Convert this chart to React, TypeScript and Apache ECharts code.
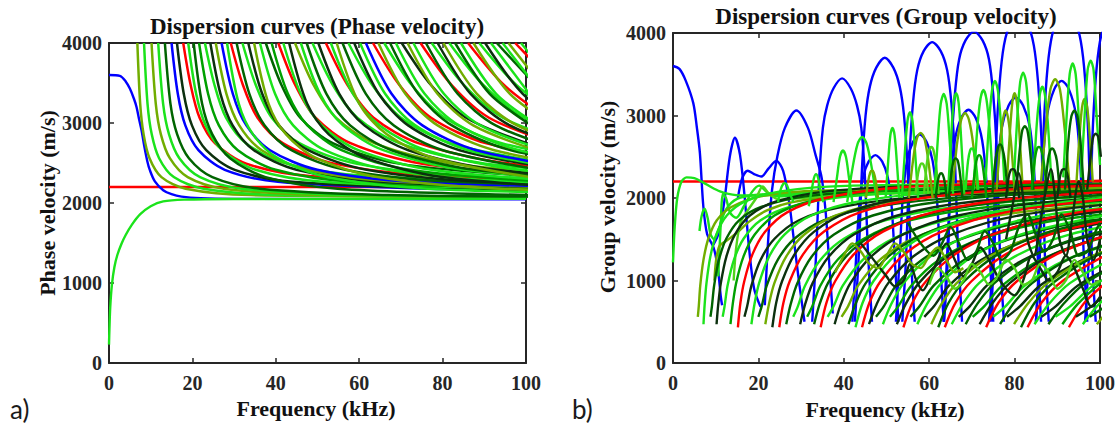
import React, { useEffect, useRef } from "react";
import * as echarts from "echarts";

// ---------------- Phase velocity (left) ----------------
const phaseFlatRed = [[0, 2200], [100, 2200]];
const phaseBlueLow = [[0, 3600], [2.6, 3590], [4, 3520], [5, 3430], [6, 3300], [6.6, 3200], [7.2, 3050], [7.8, 2910], [8.5, 2700], [9.2, 2520], [9.8, 2410], [11, 2270], [13, 2160], [15, 2110], [17.4, 2080], [22, 2060], [30, 2052], [100, 2046]];
const phaseGreenLow = [[0, 230], [0.1, 420], [0.3, 700], [0.7, 980], [1.3, 1200], [2, 1350], [3, 1490], [4, 1600], [5.5, 1730], [7.5, 1860], [10, 1960], [13, 2020], [18, 2042], [30, 2050], [100, 2052]];

// velocities reached by each higher mode at its successive sample frequencies
const phaseVelA = [4000, 3365, 2970, 2660, 2415, 2265, 2180, 2165];
const phaseVelB = [4000, 3475, 3066, 2745, 2492, 2337, 2251, 2235];
const phaseVelC = [4000, 3240, 2858, 2560, 2324, 2179, 2099, 2080];

const phaseModeFreqs = [
  [6.8, 7.48, 8.3, 9.72, 12.58, 18.36, 34, 101],
  [8.4, 9.24, 10.25, 12.01, 15.54, 22.68, 42, 101],
  [10.2, 11.22, 12.44, 14.59, 18.87, 27.54, 51, 101],
  [11.8, 12.98, 14.4, 16.87, 21.83, 31.86, 59, 101],
  [13.4, 14.74, 16.35, 19.16, 24.79, 36.18, 67, 101],
  [15, 16.5, 18.3, 21.45, 27.75, 40.5, 75, 101],
  [16.3, 17.93, 19.89, 23.31, 30.16, 44.01, 81.5, 101],
  [17.8, 19.58, 21.72, 25.45, 32.93, 48.06, 89, 101],
  [19, 20.9, 23.18, 27.17, 35.15, 51.3, 95, 101],
  [20.3, 22.33, 24.77, 29.03, 37.56, 54.81, 101.5],
  [21.6, 23.76, 26.35, 30.89, 39.96, 58.32, 108],
  [23, 25.3, 28.06, 32.89, 42.55, 62.1, 115],
  [24.3, 26.73, 29.65, 34.75, 44.96, 65.61, 121.5],
  [25.6, 28.16, 31.23, 36.61, 47.36, 69.12, 128],
  [27, 29.7, 32.94, 38.61, 49.95, 72.9, 135],
  [28.3, 31.13, 34.53, 40.47, 52.36, 76.41, 141.5],
  [29.2, 32.12, 35.62, 41.76, 54.02, 78.84, 146],
  [30.6, 33.66, 37.33, 43.76, 56.61, 82.62, 153],
  [32, 35.2, 39.04, 45.76, 59.2, 86.4, 160],
  [33.4, 36.74, 40.75, 47.76, 61.79, 90.18, 167],
  [34.8, 38.28, 42.46, 49.76, 64.38, 93.96, 174],
  [36.2, 39.82, 44.16, 51.77, 66.97, 97.74, 181],
  [37.6, 41.36, 45.87, 53.77, 69.56, 101.5],
  [39, 42.9, 47.58, 55.77, 72.15, 105.3],
  [40.6, 44.66, 49.53, 58.06, 75.11, 109.6],
  [41.8, 45.98, 51, 59.77, 77.33, 112.9],
  [43.2, 47.52, 52.7, 61.78, 79.92, 116.6],
  [44.6, 49.06, 54.41, 63.78, 82.51, 120.4],
  [46, 50.6, 56.12, 65.78, 85.1, 124.2],
  [47.4, 52.14, 57.83, 67.78, 87.69, 128],
  [48.8, 53.68, 59.54, 69.78, 90.28, 131.8],
  [50.2, 55.22, 61.24, 71.79, 92.87, 135.5],
  [52, 57.2, 63.44, 74.36, 96.2, 140.4],
  [53.2, 58.52, 64.9, 76.08, 98.42, 143.6],
  [54.6, 60.06, 66.61, 78.08, 101],
  [56, 61.6, 68.32, 80.08, 103.6],
  [57.4, 63.14, 70.03, 82.08, 106.2],
  [58.8, 64.68, 71.74, 84.08, 108.8],
  [60.2, 66.22, 73.44, 86.09, 111.4],
  [61.6, 67.76, 75.15, 88.09, 114],
  [63.3, 69.63, 77.23, 90.52, 117.1],
  [64.6, 71.06, 78.81, 92.38, 119.5],
  [66, 72.6, 80.52, 94.38, 122.1],
  [67.4, 74.14, 82.23, 96.38, 124.7],
  [68.8, 75.68, 83.94, 98.38, 127.3],
  [70.2, 77.22, 85.64, 100.4],
  [71.6, 78.76, 87.35, 102.4],
  [73, 80.3, 89.06, 104.4],
  [74.7, 82.17, 91.13, 106.8],
  [76, 83.6, 92.72, 108.7],
  [77.4, 85.14, 94.43, 110.7],
  [78.8, 86.68, 96.14, 112.7],
  [80.2, 88.22, 97.84, 114.7],
  [81.6, 89.76, 99.55, 116.7],
  [83, 91.3, 101.3],
  [84.4, 92.84, 103],
  [86.1, 94.71, 105],
  [87.4, 96.14, 106.6],
  [88.8, 97.68, 108.3],
  [90.2, 99.22, 110],
  [91.6, 100.8],
  [93, 102.3],
  [94.4, 103.8],
  [95.8, 105.4],
  [97.4, 107.1],
  [98.8, 108.7],
];
const phaseModeFamily = "CCCCCAABAC" + "ABAAACBABA" + "CABABACBAA" + "BABACABAAA" + "BABAABAABA" + "BAABAABABA" + "ABAABA";
const phaseModeColorKey = "OGOGDBKRGD" + "MGKOBGRDGK" + "OGDMRGKOGD" + "GKRGODGKGB" + "ROGDGKOGRD" + "GKOGDGROGK" + "GDGORG";

// ---------------- Group velocity (right) ----------------
const groupFlatRed = [[0, 2200], [100, 2200]];
const groupGreenMain = [[0, 1220], [0.4, 1650], [1, 2000], [2, 2200], [3.2, 2250], [5, 2240], [7, 2190], [9, 2130], [11, 2080], [13, 2050], [16, 2030], [20, 2030], [30, 2050], [50, 2080], [100, 2110]];

const groupBlueArcs = [
  [[0, 3600], [1.5, 3565], [3, 3420], [4.75, 3150], [5.6, 2850], [6.3, 2545], [7.1, 1900], [8, 1560], [9.5, 1400], [10.5, 1150], [11.2, 800], [11.5, 700]],
  [[9.4, 1430], [10.6, 1560], [12, 1950], [13.3, 2500], [14.5, 2730], [15.7, 2520], [16.8, 2000], [17.8, 1400], [19, 900], [20.5, 680]],
  [[15.2, 2000], [16.2, 2240], [17.5, 2330], [19, 2290], [20.7, 2260], [22.4, 2360], [24.2, 2450], [25.8, 2330], [27.2, 1950], [28.4, 1450], [29.6, 950], [30.8, 500]],
  [[21.5, 700], [22.3, 1500], [23.2, 2100], [24.5, 2520], [26.2, 2850], [28.9, 3060], [31.6, 2850], [33.4, 2520], [34.8, 2250], [35.8, 1800], [36.6, 1200], [37.4, 600]],
  [[32.6, 500], [33.5, 1300], [34.3, 2300], [35.1, 2850], [36.1, 3120], [37.6, 3330], [39.6, 3450], [41.6, 3330], [43.1, 3120], [44.1, 2850], [44.9, 2300], [45.7, 1300], [46.6, 500]],
  [[42.6, 500], [43.5, 1300], [44.3, 2400], [45.1, 3000], [46.1, 3350], [47.6, 3580], [49.6, 3700], [51.6, 3580], [53.1, 3350], [54.1, 3000], [54.9, 2400], [55.7, 1300], [56.6, 500]],
  [[53.7, 500], [54.6, 1300], [55.4, 2500], [56.2, 3150], [57.2, 3550], [58.7, 3780], [60.7, 3890], [62.7, 3780], [64.2, 3550], [65.2, 3150], [66, 2500], [66.8, 1300], [67.7, 500]],
  [[63.5, 500], [64.4, 1300], [65.2, 2600], [66, 3250], [67, 3680], [68.5, 3910], [70.5, 4020], [72.5, 3910], [74, 3680], [75, 3250], [75.8, 2600], [76.6, 1300], [77.5, 500]],
  [[74, 500], [74.9, 1300], [75.7, 2700], [76.5, 3400], [77.5, 3850], [79, 4120], [81, 4250], [83, 4120], [84.5, 3850], [85.5, 3400], [86.3, 2700], [87.1, 1300], [88, 500]],
  [[85, 500], [85.9, 1300], [86.7, 2700], [87.5, 3450], [88.5, 3900], [90, 4170], [92, 4300], [94, 4170], [95.5, 3900], [96.5, 3450], [97.3, 2700], [98.1, 1300], [99, 500]],
  [[96.5, 500], [97.4, 1300], [98.2, 2700], [99, 3450], [100, 3900], [101.5, 4170]],
  [[42, 500], [42.8, 1200], [43.6, 1900], [44.5, 2250], [45.8, 2440], [47.4, 2520], [49, 2440], [50.3, 2250], [51.2, 1900], [52, 1200], [52.8, 500]],
  [[52.2, 500], [53, 1200], [53.8, 2000], [54.8, 2450], [56.2, 2680], [57.8, 2770], [59.4, 2680], [60.8, 2450], [61.8, 2000], [62.6, 1200], [63.4, 500]],
  [[63.4, 500], [64.2, 1300], [65, 2200], [66, 2700], [67.5, 2970], [69.2, 3070], [70.9, 2970], [72.4, 2700], [73.4, 2200], [74.2, 1300], [75, 500]],
  [[74.4, 500], [75.2, 1300], [76, 2300], [77, 2850], [78.6, 3120], [80.3, 3220], [82, 3120], [83.6, 2850], [84.6, 2300], [85.4, 1300], [86.2, 500]],
  [[85, 500], [85.8, 1300], [86.6, 2400], [87.6, 3000], [89.3, 3320], [91, 3420], [92.7, 3320], [94.4, 3000], [95.4, 2400], [96.2, 1300], [97, 500]],
];

const groupEarlyArcs = [
  [[6.2, 1600], [6.7, 1780], [7.4, 1870], [8.1, 1760], [8.8, 1560], [9.6, 1500], [10.8, 1640], [12.4, 1860], [15, 1990], [20, 2040], [30, 2070], [60, 2100], [101, 2115]],
  [[10.6, 1050], [11.1, 1600], [11.7, 2050], [12.4, 2000], [13.4, 1820], [14.8, 1760], [16.6, 1900], [18.6, 2080], [20.2, 2150], [21.8, 2080], [24, 2020], [30, 2040], [50, 2080], [101, 2110]],
  [[9.7, 1000], [10.1, 1250], [10.9, 1420], [12.5, 1480], [15, 1580], [18, 1720], [22, 1850], [28, 1950], [40, 2030], [70, 2080], [101, 2095]],
  [[14.2, 1000], [14.8, 1400], [15.8, 1700], [17.5, 1850], [19.5, 2000], [21, 2140], [22.5, 2050], [25, 1980], [30, 2000], [45, 2060], [101, 2110]],
];
const groupEarlyColorKey = "GGOL";

const groupVelA = [470, 713, 968, 1290, 1557, 1788, 1955, 2080, 2150, 2170];
const groupVelB = [433, 730, 991, 1320, 1593, 1829, 2000, 2130, 2195, 2210];
const groupVelC = [560, 690, 937, 1248, 1506, 1730, 1891, 2020, 2090, 2110];

const groupModeFreqs = [
  [5.81, 6.04, 6.38, 7.13, 8.27, 10.26, 13.68, 20.52, 34.2, 101],
  [7.14, 7.42, 7.84, 8.75, 10.15, 12.6, 16.8, 25.2, 42, 101],
  [8.77, 9.12, 9.63, 10.75, 12.47, 15.48, 20.64, 30.96, 51.6, 101],
  [10.2, 10.6, 11.2, 12.5, 14.5, 18, 24, 36, 60, 101],
  [11.63, 12.08, 12.77, 14.25, 16.53, 20.52, 27.36, 41.04, 68.4, 101],
  [13.46, 13.99, 14.78, 16.5, 19.14, 23.76, 31.68, 47.52, 79.2, 101],
  [15.2, 15.79, 16.69, 18.63, 21.61, 26.82, 35.76, 53.64, 89.4, 101],
  [16.73, 17.38, 18.37, 20.5, 23.78, 29.52, 39.36, 59.04, 98.4, 101],
  [18.36, 19.08, 20.16, 22.5, 26.1, 32.4, 43.2, 64.8, 108],
  [19.99, 20.78, 21.95, 24.5, 28.42, 35.28, 47.04, 70.56, 117.6],
  [21.62, 22.47, 23.74, 26.5, 30.74, 38.16, 50.88, 76.32, 127.2],
  [23.26, 24.17, 25.54, 28.5, 33.06, 41.04, 54.72, 82.08, 136.8],
  [24.89, 25.86, 27.33, 30.5, 35.38, 43.92, 58.56, 87.84, 146.4],
  [26.52, 27.56, 29.12, 32.5, 37.7, 46.8, 62.4, 93.6, 156],
  [28.15, 29.26, 30.91, 34.5, 40.02, 49.68, 66.24, 99.36, 165.6],
  [29.78, 30.95, 32.7, 36.5, 42.34, 52.56, 70.08, 105.1],
  [31.42, 32.65, 34.5, 38.5, 44.66, 55.44, 73.92, 110.9],
  [33.05, 34.34, 36.29, 40.5, 46.98, 58.32, 77.76, 116.6],
  [34.58, 35.93, 37.97, 42.38, 49.16, 61.02, 81.36, 122],
  [36.21, 37.63, 39.76, 44.38, 51.48, 63.9, 85.2, 127.8],
  [37.84, 39.33, 41.55, 46.38, 53.8, 66.78, 89.04, 133.6],
  [39.47, 41.02, 43.34, 48.38, 56.12, 69.66, 92.88, 139.3],
  [41.11, 42.72, 45.14, 50.38, 58.44, 72.54, 96.72, 145.1],
  [42.74, 44.41, 46.93, 52.38, 60.76, 75.42, 100.6],
  [44.27, 46, 48.61, 54.25, 62.93, 78.12, 104.2],
  [45.9, 47.7, 50.4, 56.25, 65.25, 81, 108],
  [47.53, 49.4, 52.19, 58.25, 67.57, 83.88, 111.8],
  [49.16, 51.09, 53.98, 60.25, 69.89, 86.76, 115.7],
  [50.8, 52.79, 55.78, 62.25, 72.21, 89.64, 119.5],
  [52.43, 54.48, 57.57, 64.25, 74.53, 92.52, 123.4],
  [53.96, 56.07, 59.25, 66.13, 76.71, 95.22, 127],
  [55.59, 57.77, 61.04, 68.13, 79.03, 98.1, 130.8],
  [57.22, 59.47, 62.83, 70.13, 81.35, 101],
  [58.85, 61.16, 64.62, 72.13, 83.67, 103.9],
  [60.49, 62.86, 66.42, 74.13, 85.99, 106.7],
  [62.12, 64.55, 68.21, 76.13, 88.31, 109.6],
  [63.65, 66.14, 69.89, 78, 90.48, 112.3],
  [65.28, 67.84, 71.68, 80, 92.8, 115.2],
  [66.91, 69.54, 73.47, 82, 95.12, 118.1],
  [68.54, 71.23, 75.26, 84, 97.44, 121],
  [70.18, 72.93, 77.06, 86, 99.76, 123.8],
  [71.81, 74.62, 78.85, 88, 102.1],
  [73.34, 76.21, 80.53, 89.88, 104.3],
  [74.97, 77.91, 82.32, 91.88, 106.6],
  [76.6, 79.61, 84.11, 93.88, 108.9],
  [78.23, 81.3, 85.9, 95.88, 111.2],
  [79.87, 83, 87.7, 97.88, 113.5],
  [81.5, 84.69, 89.49, 99.88, 115.9],
  [83.03, 86.28, 91.17, 101.8],
  [84.66, 87.98, 92.96, 103.8],
  [86.29, 89.68, 94.75, 105.8],
  [87.92, 91.37, 96.54, 107.8],
  [89.56, 93.07, 98.34, 109.8],
  [91.19, 94.76, 100.1],
  [92.72, 96.35, 101.8],
  [94.35, 98.05, 103.6],
  [95.98, 99.75, 105.4],
  [97.61, 101.4],
  [99.25, 103.1],
];
const groupModeFamily = "CACACABCAC" + "ABBACACABC" + "ACABBACACA" + "BCACABBACA" + "CABCACABBA" + "CACABCACA";
const groupModeColorKey = "OGDKGMRKGD" + "OKRDGKMDRG" + "KODGRKDGMK" + "RDGKODRGKD" + "MKRGDKODRG" + "KDGMRKGDO";

const groupHumps = [
  [[31.8, 1900], [32.5, 2100], [33, 2240], [33.5, 2290], [34, 2240], [34.5, 2100], [35.2, 1950]],
  [[37.6, 1950], [38.4, 2250], [39.1, 2500], [39.8, 2575], [40.5, 2500], [41.2, 2250], [42, 1950]],
  [[40.8, 1950], [42, 2350], [43.2, 2650], [44.3, 2740], [45.4, 2650], [46.6, 2350], [47.8, 1950]],
  [[45.2, 2000], [45.7, 2200], [46.2, 2310], [46.6, 2330], [47, 2310], [47.5, 2200], [48, 2000]],
  [[49.8, 2000], [50.4, 2450], [50.9, 2760], [51.4, 2850], [51.9, 2760], [52.4, 2450], [53, 2000]],
  [[53.6, 2000], [54.3, 2550], [54.9, 2930], [55.5, 3040], [56.1, 2930], [56.7, 2550], [57.4, 2000]],
  [[55.2, 2000], [56.2, 2450], [57.1, 2720], [58, 2790], [58.9, 2720], [59.8, 2450], [60.8, 2000]],
  [[58.8, 2050], [59.4, 2400], [60, 2580], [60.5, 2620], [61, 2580], [61.6, 2400], [62.2, 2050]],
  [[61.2, 2050], [62, 2700], [62.7, 3140], [63.4, 3260], [64.1, 3140], [64.8, 2700], [65.6, 2050]],
  [[64.4, 2050], [65.1, 2700], [65.7, 3150], [66.3, 3270], [66.9, 3150], [67.5, 2700], [68.2, 2050]],
  [[65.5, 2100], [66.5, 2650], [67.5, 2950], [68.4, 3030], [69.3, 2950], [70.3, 2650], [71.3, 2100]],
  [[68.5, 2100], [69.1, 2450], [69.6, 2580], [70, 2600], [70.4, 2580], [70.9, 2450], [71.5, 2100]],
  [[70.4, 2100], [71.2, 2800], [72, 3200], [72.7, 3310], [73.4, 3200], [74.2, 2800], [75, 2100]],
  [[73.2, 2200], [74, 2900], [74.7, 3300], [75.4, 3420], [76.1, 3300], [76.8, 2900], [77.6, 2200]],
  [[75.8, 2100], [76.6, 2650], [77.3, 2960], [77.9, 3060], [78.5, 2960], [79.2, 2650], [80, 2100]],
  [[78.2, 2200], [78.9, 2800], [79.5, 3170], [80, 3270], [80.5, 3170], [81.1, 2800], [81.8, 2200]],
  [[79.8, 2200], [80.6, 2950], [81.3, 3400], [82, 3520], [82.7, 3400], [83.4, 2950], [84.2, 2200]],
  [[84.4, 2200], [85.2, 2900], [85.9, 3250], [86.5, 3350], [87.1, 3250], [87.8, 2900], [88.6, 2200]],
  [[86.2, 2200], [87.3, 2850], [88.4, 3320], [89.5, 3440], [90.6, 3320], [91.7, 2850], [92.8, 2200]],
  [[91.4, 2250], [92.2, 3000], [92.9, 3500], [93.6, 3630], [94.3, 3500], [95, 3000], [95.8, 2250]],
  [[94.5, 2200], [95.2, 2750], [95.8, 3100], [96.4, 3200], [97, 3100], [97.6, 2750], [98.3, 2200]],
  [[95.6, 2250], [96.4, 3000], [97.1, 3550], [97.8, 3665], [98.5, 3550], [99.2, 3000], [100, 2400]],
  [[61.5, 2000], [62, 2200], [62.4, 2280], [62.8, 2300], [63.2, 2280], [63.6, 2200], [64.1, 2000]],
  [[64.6, 2000], [65.2, 2300], [65.7, 2450], [66.2, 2480], [66.7, 2450], [67.2, 2300], [67.8, 2000]],
  [[70, 2000], [70.7, 2330], [71.2, 2480], [71.7, 2520], [72.2, 2480], [72.7, 2330], [73.4, 2000]],
  [[74.8, 2050], [75.5, 2450], [76.1, 2610], [76.6, 2650], [77.1, 2610], [77.7, 2450], [78.4, 2050]],
  [[78, 2000], [78.6, 2250], [79.1, 2340], [79.5, 2350], [80, 2340], [80.5, 2250], [81.1, 2000]],
  [[80.4, 2100], [81.2, 2580], [81.8, 2820], [82.4, 2870], [83, 2820], [83.6, 2580], [84.4, 2100]],
  [[84, 2100], [84.7, 2450], [85.2, 2590], [85.7, 2620], [86.2, 2590], [86.8, 2450], [87.5, 2100]],
  [[87, 2050], [87.8, 2450], [88.3, 2570], [88.8, 2600], [89.3, 2570], [89.9, 2450], [90.6, 2050]],
  [[90, 2000], [90.6, 2250], [91.1, 2340], [91.5, 2350], [92, 2340], [92.5, 2250], [93.1, 2000]],
  [[91.8, 2100], [92.6, 2700], [93.3, 2990], [94, 3060], [94.7, 2990], [95.4, 2700], [96.2, 2100]],
  [[97, 2100], [97.8, 2500], [98.4, 2740], [99, 2780], [99.6, 2740], [100.2, 2500]],
  [[24.6, 1950], [25.2, 2100], [25.8, 2170], [26.3, 2180], [26.8, 2140], [27.4, 2050], [28.2, 1950]],
  [[56.8, 2050], [57.4, 2300], [57.9, 2400], [58.3, 2420], [58.7, 2400], [59.2, 2300], [59.8, 2050]],
];
const groupHumpColorKey = "GGGOGGOLGG" + "OGGGOOGGOG" + "OGDDMDKDMD" + "KDKGL";

const groupWaves = [
  [[44, 1450], [47, 1250], [50, 1050], [52, 930], [54, 1000], [55.5, 1200], [57, 1000], [58.5, 880], [60, 1000], [62, 1250], [64, 1450], [66, 1250], [68, 1050], [70, 1200], [72, 1400], [74, 1250], [76, 1050], [78, 900], [80, 820], [82, 1000], [84, 1300], [86, 1150], [88, 1000], [90, 1100], [92, 1300], [94, 1150], [96, 900], [98, 680], [100, 800]],
  [[55, 1700], [58, 1450], [61, 1300], [63, 1450], [65, 1650], [67, 1450], [69, 1250], [71, 1350], [73, 1600], [75, 1450], [77, 1250], [79, 1350], [81, 1650], [83, 1800], [85, 1550], [87, 1350], [89, 1500], [91, 1800], [93, 1600], [95, 1300], [97, 1350], [99, 1600], [100, 1700]],
  [[78, 1500], [79.5, 1900], [81, 2300], [82, 2000], [83, 1500], [84.5, 1300], [86, 1700], [87.5, 2150], [88.5, 2350], [89.5, 2000], [90.5, 1500], [92, 1300], [93.5, 1750], [95, 2200], [96, 2000], [97, 1500], [98.5, 1250], [100, 1500]],
  [[38, 1100], [40, 1300], [42, 1450], [44, 1350], [46, 1200], [48, 1150], [50, 1300], [52, 1450], [54, 1350], [56, 1200], [58, 1150], [60, 1300], [62, 1400], [64, 1250], [66, 1100], [68, 1150]],
  [[60, 950], [62, 1150], [64, 1050], [66, 900], [68, 1000], [70, 1200], [72, 1100], [74, 950], [76, 1050], [78, 1250], [80, 1150], [82, 950], [84, 1000], [86, 1200], [88, 1100], [90, 900], [92, 1000], [94, 1250], [96, 1100], [98, 950], [100, 1000]],
];
const groupWaveColorKey = "KDKOL";

// ---------------- styling ----------------
const PALETTE: Record<string, string> = {
  G: "#1be31b",
  L: "#4fd41a",
  M: "#00a000",
  D: "#006400",
  K: "#0c300e",
  O: "#71ad00",
  R: "#ff0000",
  B: "#0000ff",
};
const AXIS_COLOR = "#262626";
const SERIF = "Liberation Serif";

function zip(freqs: number[], vels: number[]) {
  return freqs.map((f, i) => [f, vels[i]]);
}

function lineSeries(data: number[][], color: string, grid: number, width = 2.4) {
  return {
    type: "line",
    data,
    xAxisIndex: grid,
    yAxisIndex: grid,
    showSymbol: false,
    symbol: "none",
    smooth: 0.3,
    silent: true,
    animation: false,
    clip: true,
    lineStyle: { color, width },
  };
}

function xAxisDef(grid: number, top: boolean) {
  return {
    type: "value",
    gridIndex: grid,
    position: top ? "top" : "bottom",
    min: 0,
    max: 100,
    interval: 20,
    axisLine: { show: true, onZero: false, lineStyle: { color: AXIS_COLOR, width: 2 } },
    axisTick: { show: true, inside: true, length: 5, lineStyle: { color: AXIS_COLOR, width: 1.5 } },
    axisLabel: top
      ? { show: false }
      : { show: true, margin: 10, fontFamily: SERIF, fontWeight: "bold", fontSize: 20, color: AXIS_COLOR, formatter: (v: number) => String(v) },
    splitLine: { show: false },
  };
}

function yAxisDef(grid: number, right: boolean) {
  return {
    type: "value",
    gridIndex: grid,
    position: right ? "right" : "left",
    min: 0,
    max: 4000,
    interval: 1000,
    axisLine: { show: true, onZero: false, lineStyle: { color: AXIS_COLOR, width: 2 } },
    axisTick: { show: true, inside: true, length: 5, lineStyle: { color: AXIS_COLOR, width: 1.5 } },
    axisLabel: right
      ? { show: false }
      : { show: true, margin: 7, fontFamily: SERIF, fontWeight: "bold", fontSize: 20, color: AXIS_COLOR, formatter: (v: number) => String(v) },
    splitLine: { show: false },
  };
}

function textEl(text: string, x: number, y: number, size: number, opts: any = {}) {
  const align = opts.align || "center";
  return {
    type: "text",
    x,
    y,
    rotation: opts.rotation || 0,
    silent: true,
    style: {
      text,
      fontFamily: opts.family || SERIF,
      fontWeight: opts.weight || "bold",
      fontSize: size,
      fill: opts.fill || "#111111",
      textAlign: align,
      align,
      textVerticalAlign: "middle",
      verticalAlign: "middle",
    },
  };
}

function buildOption() {
  const series: any[] = [];

  // Left: phase velocity
  series.push(lineSeries(phaseFlatRed, PALETTE.R, 0));
  series.push(lineSeries(phaseBlueLow, PALETTE.B, 0));
  series.push(lineSeries(phaseGreenLow, PALETTE.G, 0));
  const phaseVel: Record<string, number[]> = { A: phaseVelA, B: phaseVelB, C: phaseVelC };
  phaseModeFreqs.forEach((freqs, i) => {
    const fam = phaseModeFamily[i] || "A";
    const col = PALETTE[phaseModeColorKey[i] || "G"];
    series.push(lineSeries(zip(freqs, phaseVel[fam]), col, 0, 2.5));
  });

  // Right: group velocity
  series.push(lineSeries(groupFlatRed, PALETTE.R, 1));
  groupBlueArcs.forEach((arc) => series.push(lineSeries(arc, PALETTE.B, 1)));
  series.push(lineSeries(groupGreenMain, PALETTE.G, 1));
  groupEarlyArcs.forEach((arc, i) => series.push(lineSeries(arc, PALETTE[groupEarlyColorKey[i]], 1)));
  const groupVel: Record<string, number[]> = { A: groupVelA, B: groupVelB, C: groupVelC };
  groupModeFreqs.forEach((freqs, i) => {
    const fam = groupModeFamily[i] || "A";
    const col = PALETTE[groupModeColorKey[i] || "G"];
    series.push(lineSeries(zip(freqs, groupVel[fam]), col, 1));
  });
  groupHumps.forEach((h, i) => series.push(lineSeries(h, PALETTE[groupHumpColorKey[i] || "G"], 1)));
  groupWaves.forEach((w, i) => series.push(lineSeries(w, PALETTE[groupWaveColorKey[i] || "K"], 1)));

  return {
    animation: false,
    backgroundColor: "#ffffff",
    grid: [
      { left: 109, top: 43, width: 417, height: 320, containLabel: false },
      { left: 673, top: 33, width: 428, height: 330, containLabel: false },
    ],
    xAxis: [xAxisDef(0, false), xAxisDef(1, false), xAxisDef(0, true), xAxisDef(1, true)],
    yAxis: [yAxisDef(0, false), yAxisDef(1, false), yAxisDef(0, true), yAxisDef(1, true)],
    series,
    graphic: [
      textEl("Dispersion curves (Phase velocity)", 317, 26, 23),
      textEl("Dispersion curves (Group velocity)", 886, 16, 23),
      textEl("Phase velocity (m/s)", 47, 203, 22, { rotation: Math.PI / 2 }),
      textEl("Group velocity (m/s)", 607, 197, 22, { rotation: Math.PI / 2 }),
      textEl("Frequency (kHz)", 316, 408, 22),
      textEl("Frequency (kHz)", 885, 409, 22),
      textEl("a)", 10, 409, 26, { align: "left", family: "Lato", weight: "normal", fill: "#1a1a1a" }),
      textEl("b)", 572, 409, 26, { align: "left", family: "Lato", weight: "normal", fill: "#1a1a1a" }),
    ],
  };
}

export default function App() {
  const ref = useRef<HTMLDivElement | null>(null);
  useEffect(() => {
    document.body.style.margin = "0";
    if (!ref.current) return;
    const chart = echarts.init(ref.current, undefined, { renderer: "svg" });
    chart.setOption(buildOption() as any);
    return () => {
      chart.dispose();
    };
  }, []);
  return <div ref={ref} style={{ width: 1118, height: 426, background: "#fff" }} />;
}
